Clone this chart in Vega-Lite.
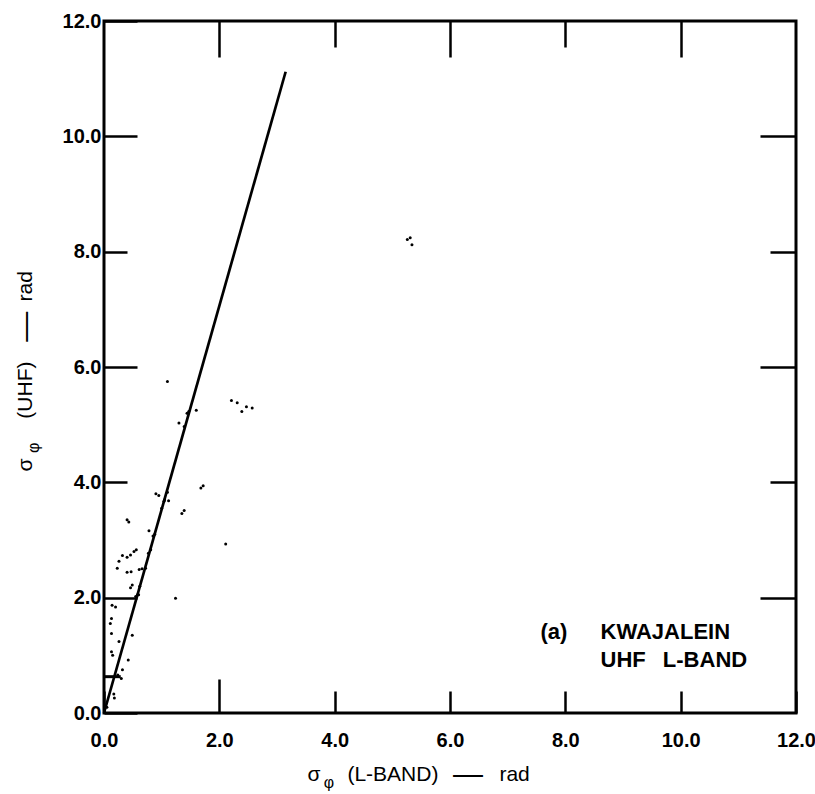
{
  "$schema": "https://vega.github.io/schema/vega-lite/v6.json",
  "width": 692,
  "height": 692,
  "autosize": "none",
  "padding": {"left": 104, "top": 21, "right": 19, "bottom": 81},
  "background": "white",
  "config": {
    "view": {"stroke": "black", "strokeWidth": 3},
    "font": "Liberation Sans"
  },
  "datasets": {
    "points": [
      {"x": 1.10, "y": 5.75}, {"x": 2.21, "y": 5.42}, {"x": 2.31, "y": 5.38}, {"x": 2.39, "y": 5.23},
      {"x": 2.47, "y": 5.31}, {"x": 2.57, "y": 5.29}, {"x": 1.47, "y": 5.23}, {"x": 1.60, "y": 5.25},
      {"x": 1.39, "y": 4.97}, {"x": 1.30, "y": 5.03}, {"x": 1.44, "y": 5.20}, {"x": 1.68, "y": 3.90},
      {"x": 1.72, "y": 3.94}, {"x": 1.39, "y": 3.51}, {"x": 1.35, "y": 3.46}, {"x": 0.90, "y": 3.80},
      {"x": 0.95, "y": 3.77}, {"x": 1.10, "y": 3.83}, {"x": 1.04, "y": 3.67}, {"x": 1.12, "y": 3.68},
      {"x": 2.11, "y": 2.93}, {"x": 0.40, "y": 3.35}, {"x": 0.43, "y": 3.31}, {"x": 0.32, "y": 2.73},
      {"x": 0.40, "y": 2.70}, {"x": 0.46, "y": 2.74}, {"x": 0.52, "y": 2.80}, {"x": 0.56, "y": 2.83},
      {"x": 0.26, "y": 2.63}, {"x": 0.23, "y": 2.51}, {"x": 0.40, "y": 2.44}, {"x": 0.47, "y": 2.45},
      {"x": 0.61, "y": 2.49}, {"x": 0.66, "y": 2.50}, {"x": 0.78, "y": 3.16}, {"x": 0.85, "y": 3.07},
      {"x": 0.81, "y": 2.83}, {"x": 0.77, "y": 2.77}, {"x": 0.72, "y": 2.51}, {"x": 0.49, "y": 2.22},
      {"x": 0.46, "y": 2.17}, {"x": 1.24, "y": 1.99}, {"x": 0.55, "y": 2.02}, {"x": 0.60, "y": 2.05},
      {"x": 0.14, "y": 1.87}, {"x": 0.20, "y": 1.84}, {"x": 0.13, "y": 1.38}, {"x": 0.13, "y": 1.06},
      {"x": 0.15, "y": 1.00}, {"x": 0.26, "y": 1.24}, {"x": 0.49, "y": 1.35}, {"x": 0.42, "y": 0.92},
      {"x": 0.32, "y": 0.75}, {"x": 0.13, "y": 1.64}, {"x": 0.11, "y": 1.55}, {"x": 0.17, "y": 0.33},
      {"x": 0.18, "y": 0.26}, {"x": 5.26, "y": 8.21}, {"x": 5.31, "y": 8.24}, {"x": 5.34, "y": 8.12},
      {"x": 0.24, "y": 0.66}, {"x": 0.30, "y": 0.60}, {"x": 0.88, "y": 3.10}, {"x": 1.00, "y": 3.55},
      {"x": 1.05, "y": 3.70}, {"x": 0.62, "y": 2.20}, {"x": 0.58, "y": 2.05}, {"x": 0.05, "y": 0.10}
    ],
    "fit": [{"x": 0, "y": 0}, {"x": 3.15, "y": 11.12}],
    "seg": [{"x": 0, "x2": 0.29, "y": 0.63}],
    "notes": [
      {"x": 7.57, "y": 1.41, "label": "(a)"},
      {"x": 8.61, "y": 1.41, "label": "KWAJALEIN"},
      {"x": 8.61, "y": 0.92, "label": "UHF\u2002 L-BAND"}
    ],
    "xtitle": [
      {"x": 3.64, "y": -1.07, "label": "σ"},
      {"x": 5.01, "y": -1.07, "label": "(L-BAND)"},
      {"x": 7.12, "y": -1.07, "label": "rad"}
    ],
    "xdash": [{"x": 6.31, "y": -1.07, "label": "—"}],
    "xsub": [{"x": 3.90, "y": -1.22, "label": "φ"}],
    "ytitle": [
      {"x": -1.35, "y": 4.30, "label": "σ"},
      {"x": -1.35, "y": 5.60, "label": "(UHF)"},
      {"x": -1.35, "y": 7.40, "label": "rad"}
    ],
    "ydash": [{"x": -1.35, "y": 6.70, "label": "—"}],
    "ysub": [{"x": -1.21, "y": 4.60, "label": "φ"}]
  },
  "resolve": {"axis": {"x": "independent", "y": "independent"}},
  "layer": [
    {
      "data": {"name": "points"},
      "mark": {"type": "point", "filled": true, "size": 9, "color": "black", "opacity": 1},
      "encoding": {
        "x": {
          "field": "x", "type": "quantitative",
          "scale": {"domain": [0, 12], "nice": false, "zero": false},
          "axis": {
            "orient": "bottom", "values": [0, 2, 4, 6, 8, 10, 12], "format": ".1f",
            "title": null, "grid": false, "domain": false,
            "ticks": true,
            "tickSize": {"condition": {"test": "datum.value === 2", "value": -34}, "value": -22},
            "labelPadding": {"condition": {"test": "datum.value === 2", "value": 51}, "value": 39},
            "tickWidth": 2.5, "tickColor": "black",
            "labelFontSize": 20, "labelFontWeight": "bold", "labelColor": "black",
            "labelFlush": false, "labelOverlap": false
          }
        },
        "y": {
          "field": "y", "type": "quantitative",
          "scale": {"domain": [0, 12], "nice": false, "zero": false},
          "axis": {
            "orient": "left", "values": [0, 2, 4, 6, 8, 10, 12], "format": ".1f",
            "title": null, "grid": false, "domain": false,
            "ticks": true,
            "tickSize": {"condition": {"test": "datum.value === 4 || datum.value === 8", "value": -23}, "value": -33},
            "labelPadding": {"condition": {"test": "datum.value === 4 || datum.value === 8", "value": 26}, "value": 36},
            "tickWidth": 2.5, "tickColor": "black",
            "labelFontSize": 20, "labelFontWeight": "bold", "labelColor": "black",
            "labelFlush": false, "labelOverlap": false
          }
        }
      }
    },
    {
      "data": {"name": "fit"},
      "mark": {"type": "line", "color": "black", "strokeWidth": 2.7},
      "encoding": {
        "x": {
          "field": "x", "type": "quantitative",
          "axis": {
            "orient": "top", "values": [2, 4, 6, 8, 10], "title": null, "grid": false,
            "domain": false, "labels": false,
            "tickSize": {"condition": {"test": "datum.value === 4 || datum.value === 8", "value": -26}, "value": -36},
            "tickWidth": 2.5, "tickColor": "black"
          }
        },
        "y": {
          "field": "y", "type": "quantitative",
          "axis": {
            "orient": "right", "values": [2, 4, 6, 8, 10], "title": null, "grid": false,
            "domain": false, "labels": false,
            "tickSize": {"condition": {"test": "datum.value === 4 || datum.value === 8", "value": -26}, "value": -36},
            "tickWidth": 2.5, "tickColor": "black"
          }
        }
      }
    },
    {
      "data": {"name": "seg"},
      "mark": {"type": "rule", "color": "black", "strokeWidth": 3},
      "encoding": {
        "x": {"field": "x", "type": "quantitative", "axis": null},
        "x2": {"field": "x2"},
        "y": {"field": "y", "type": "quantitative", "axis": null}
      }
    },
    {
      "data": {"name": "notes"},
      "mark": {"type": "text", "align": "left", "baseline": "middle", "fontSize": 22, "fontWeight": "bold", "color": "black"},
      "encoding": {
        "x": {"field": "x", "type": "quantitative", "axis": null},
        "y": {"field": "y", "type": "quantitative", "axis": null},
        "text": {"field": "label"}
      }
    },
    {
      "data": {"name": "xtitle"},
      "mark": {"type": "text", "align": "center", "baseline": "middle", "fontSize": 21, "color": "black"},
      "encoding": {
        "x": {"field": "x", "type": "quantitative", "axis": null},
        "y": {"field": "y", "type": "quantitative", "axis": null},
        "text": {"field": "label"}
      }
    },
    {
      "data": {"name": "xdash"},
      "mark": {"type": "text", "align": "center", "baseline": "middle", "fontSize": 30, "color": "black"},
      "encoding": {
        "x": {"field": "x", "type": "quantitative", "axis": null},
        "y": {"field": "y", "type": "quantitative", "axis": null},
        "text": {"field": "label"}
      }
    },
    {
      "data": {"name": "xsub"},
      "mark": {"type": "text", "align": "center", "baseline": "middle", "fontSize": 16, "color": "black"},
      "encoding": {
        "x": {"field": "x", "type": "quantitative", "axis": null},
        "y": {"field": "y", "type": "quantitative", "axis": null},
        "text": {"field": "label"}
      }
    },
    {
      "data": {"name": "ytitle"},
      "mark": {"type": "text", "align": "center", "baseline": "middle", "angle": 270, "fontSize": 21, "color": "black"},
      "encoding": {
        "x": {"field": "x", "type": "quantitative", "axis": null},
        "y": {"field": "y", "type": "quantitative", "axis": null},
        "text": {"field": "label"}
      }
    },
    {
      "data": {"name": "ydash"},
      "mark": {"type": "text", "align": "center", "baseline": "middle", "angle": 270, "fontSize": 30, "color": "black"},
      "encoding": {
        "x": {"field": "x", "type": "quantitative", "axis": null},
        "y": {"field": "y", "type": "quantitative", "axis": null},
        "text": {"field": "label"}
      }
    },
    {
      "data": {"name": "ysub"},
      "mark": {"type": "text", "align": "center", "baseline": "middle", "angle": 270, "fontSize": 16, "color": "black"},
      "encoding": {
        "x": {"field": "x", "type": "quantitative", "axis": null},
        "y": {"field": "y", "type": "quantitative", "axis": null},
        "text": {"field": "label"}
      }
    }
  ]
}
